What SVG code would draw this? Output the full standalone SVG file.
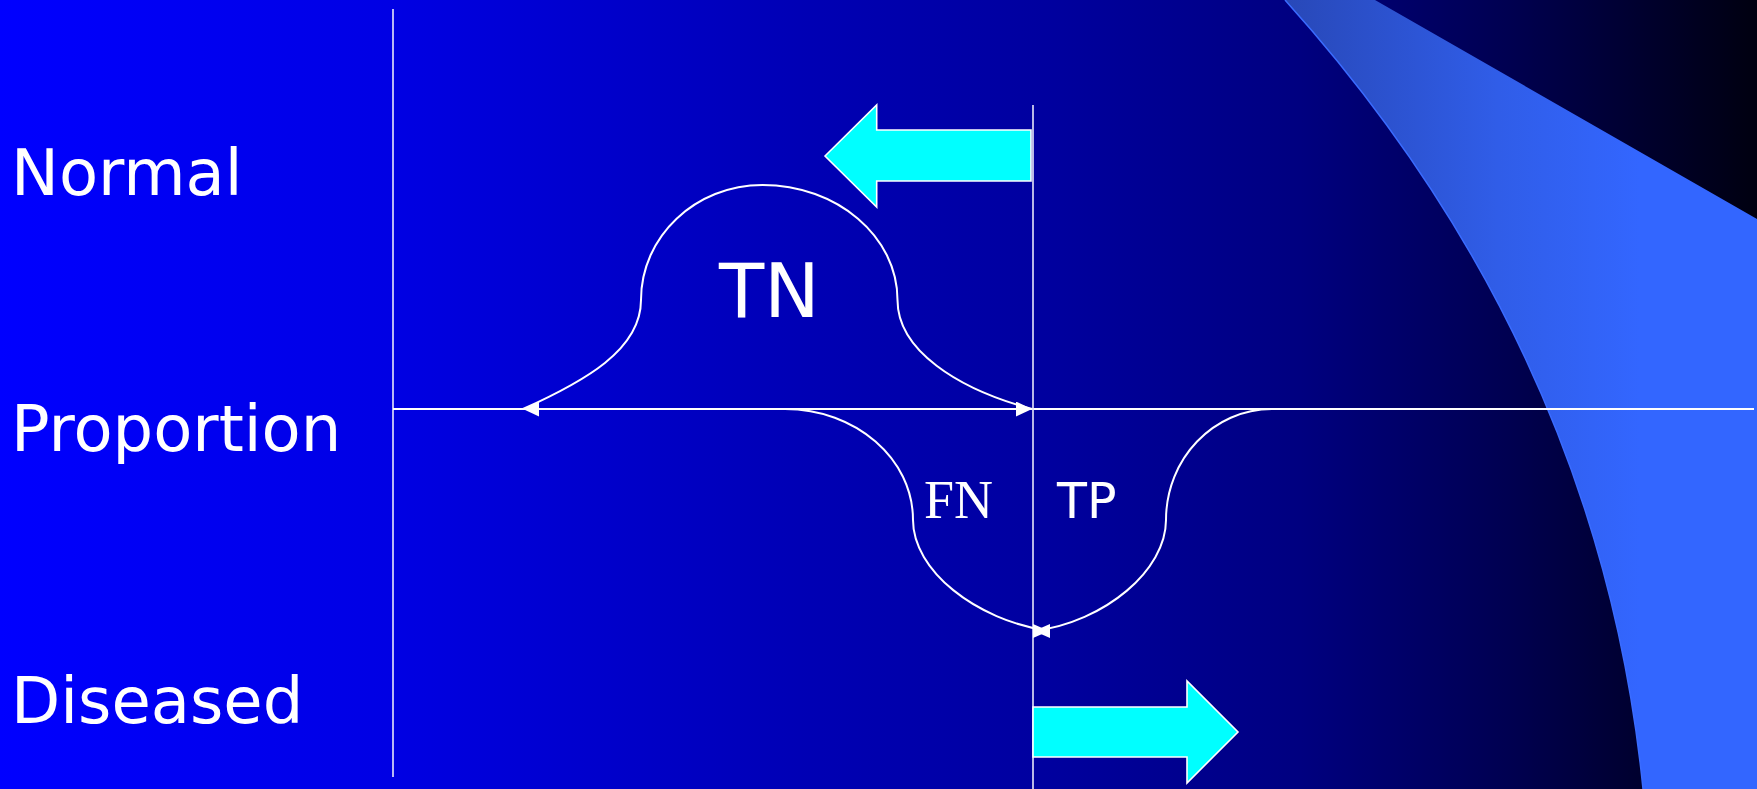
<svg xmlns="http://www.w3.org/2000/svg" width="1757" height="789" viewBox="0 0 1757 789">
  <defs>
    <linearGradient id="bg" x1="0" y1="0" x2="1757" y2="0" gradientUnits="userSpaceOnUse">
      <stop offset="0" stop-color="#0000FF"/>
      <stop offset="0.22" stop-color="#0000E4"/>
      <stop offset="0.455" stop-color="#0000B5"/>
      <stop offset="0.6" stop-color="#00009E"/>
      <stop offset="0.74" stop-color="#000080"/>
      <stop offset="0.86" stop-color="#000050"/>
      <stop offset="1" stop-color="#000010"/>
    </linearGradient>
    <linearGradient id="band" x1="1285" y1="0" x2="1640" y2="0" gradientUnits="userSpaceOnUse">
      <stop offset="0" stop-color="#2848B8"/>
      <stop offset="0.6" stop-color="#305DE8"/>
      <stop offset="1" stop-color="#3366FF"/>
    </linearGradient>
    <marker id="arrowL" markerUnits="userSpaceOnUse" markerWidth="16" markerHeight="15" viewBox="0 0 16 15" refX="0" refY="7.5" orient="0">
      <path d="M0,7.5 L16,0 L16,15 Z" fill="#FFFFFF"/>
    </marker>
    <marker id="arrowR" markerUnits="userSpaceOnUse" markerWidth="16" markerHeight="15" viewBox="0 0 16 15" refX="16" refY="7.5" orient="0">
      <path d="M16,7.5 L0,0 L0,15 Z" fill="#FFFFFF"/>
    </marker>
    <marker id="tipL" markerUnits="userSpaceOnUse" markerWidth="16" markerHeight="14" viewBox="0 0 16 14" refX="0" refY="7" orient="0">
      <path d="M0,7 L16,0 L16,14 Z" fill="#FFFFFF"/>
    </marker>
    <marker id="tipR" markerUnits="userSpaceOnUse" markerWidth="16" markerHeight="14" viewBox="0 0 16 14" refX="16" refY="7" orient="0">
      <path d="M16,7 L0,0 L0,14 Z" fill="#FFFFFF"/>
    </marker>
  </defs>
  <style>
    .label { font-family: "DejaVu Sans", Verdana, sans-serif; fill: #FFFFFF; }
    .serif { font-family: "Liberation Serif", "Times New Roman", serif; fill: #FFFFFF; }
    .axis { stroke: #FFFFFF; stroke-width: 2; fill: none; }
    .vline { stroke: #E8E8F8; stroke-width: 1.6; fill: none; }
    .curve { stroke: #FFFFFF; stroke-width: 2; fill: none; }
    .cyan { fill: #00FFFF; stroke: #FFFFFF; stroke-width: 1.6; stroke-linejoin: miter; }
  </style>

  <rect id="background" x="0" y="0" width="1757" height="789" fill="url(#bg)"/>

  <g id="band-shape">
    <path d="M1285,0 L1375,0 L1757,219 L1757,789 L1643,789 Q1599,349 1285,0 Z" fill="url(#band)"/>
    <path d="M1643,789 Q1599,349 1285,0" fill="none" stroke="#3A6CFF" stroke-width="1.5"/>
  </g>

  <g id="connectors">
    <line class="vline" x1="393" y1="9" x2="393" y2="777"/>
    <line class="axis" x1="393" y1="409" x2="1754" y2="409"/>
    <line class="vline" x1="1033" y1="105" x2="1033" y2="789"/>
    <path id="tn-curve" class="curve" marker-start="url(#arrowL)" marker-end="url(#arrowR)"
          d="M523,409 C584,381.5 641,350 641,300 C641,236.5 695.4,185 762.5,185 C837.1,185 897.5,236.5 897.5,300 C897.5,350 957,389 1032,409"/>
    <path id="fn-curve" class="curve" marker-end="url(#tipR)"
          d="M785,409 C855.7,409 913,458.7 913,520 C913,570 975,620 1049,631"/>
    <path id="tp-curve" class="curve" marker-end="url(#tipL)"
          d="M1272,409 C1213.5,409 1166,458.7 1166,520 C1166,570 1105,622 1034,631"/>
  </g>

  <g id="arrow-left">
    <polygon class="cyan" points="825,156 876.7,105 876.7,130 1031,130 1031,181 876.7,181 876.7,207"/>
  </g>
  <g id="arrow-right">
    <polygon class="cyan" points="1033,707 1187,707 1187,681 1238,732 1187,783 1187,757 1033,757"/>
  </g>

  <g id="label-normal"><text class="label" x="11" y="195" font-size="64">Normal</text></g>
  <g id="label-proportion"><text class="label" x="11" y="451" font-size="64">Proportion</text></g>
  <g id="label-diseased"><text class="label" x="11" y="723" font-size="64">Diseased</text></g>
  <g id="label-tn"><text class="label" x="719" y="317" font-size="74">TN</text></g>
  <g id="label-fn"><text class="serif" x="924" y="518" font-size="54">FN</text></g>
  <g id="label-tp"><text class="label" x="1057" y="518" font-size="49">TP</text></g>
</svg>
